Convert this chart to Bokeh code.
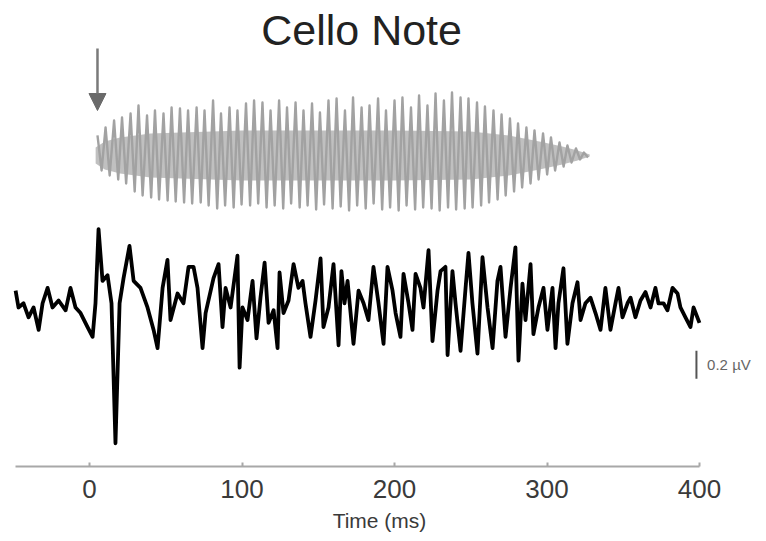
from bokeh.plotting import figure
from bokeh.models import Range1d, FixedTicker, Arrow, NormalHead, Label, ColumnDataSource
from bokeh.embed import file_html
from bokeh.resources import INLINE

# ---------------- data ----------------
tick_values = [0, 100, 200, 300, 400]
tick_labels = ["0", "100", "200", "300", "400"]

# evoked response (black trace): time in ms, amplitude in microvolts
black_t = [-48.5, -46.6, -43.3, -40.0, -36.7, -33.4, -30.8, -27.5, -24.3, -20.3,
           -15.7, -12.5, -9.2, -5.9, -1.3, 2.0, 3.9, 5.9, 8.5, 11.8,
           14.4, 17.0, 19.7, 22.3, 26.2, 28.9, 33.4, 38.0, 42.0, 44.6,
           47.9, 51.1, 53.1, 57.7, 61.6, 64.9, 68.2, 70.8, 74.1, 76.1,
           81.3, 84.6, 87.2, 89.2, 92.5, 97.0, 98.4, 100.3, 103.6, 106.9,
           109.5, 112.1, 114.8, 117.4, 120.7, 123.3, 124.6, 127.2, 130.5, 133.8,
           137.0, 139.7, 141.6, 144.9, 148.2, 151.5, 153.4, 156.7, 160.0, 163.3,
           165.2, 167.2, 169.2, 173.1, 176.4, 179.7, 182.9, 186.2, 189.5, 192.8,
           195.4, 198.7, 200.7, 203.9, 205.9, 209.2, 211.8, 213.8, 217.0, 219.0,
           222.3, 224.9, 228.2, 230.2, 233.4, 234.8, 238.0, 240.0, 243.3, 246.6,
           248.5, 251.1, 254.4, 257.7, 261.0, 264.3, 267.5, 269.5, 272.8, 276.1,
           279.3, 281.3, 283.9, 285.9, 289.2, 291.1, 294.4, 297.7, 300.3, 303.6,
           305.6, 307.5, 310.8, 313.4, 316.7, 320.0, 322.0, 325.2, 328.5, 331.8,
           335.1, 338.3, 341.6, 344.9, 346.9, 349.5, 352.8, 354.8, 358.0, 361.3,
           364.6, 367.9, 371.1, 373.1, 376.4, 379.0, 382.3, 385.6, 387.5, 390.8,
           394.1, 396.1, 400.0]
black_uv = [0.07, -0.05, -0.02, -0.12, -0.05, -0.21, -0.02, 0.09, -0.05, 0.00,
            -0.07, 0.09, -0.05, -0.09, -0.19, -0.26, -0.02, 0.51, 0.14, 0.18,
            -0.02, -1.02, -0.02, 0.16, 0.39, 0.14, 0.09, -0.05, -0.21, -0.34,
            0.09, 0.29, -0.14, 0.05, -0.02, 0.24, 0.24, 0.09, -0.34, -0.09,
            0.16, 0.26, -0.19, 0.09, -0.05, 0.32, -0.48, -0.05, -0.14, 0.14,
            -0.27, 0.02, 0.27, -0.16, -0.07, -0.34, 0.20, -0.09, 0.00, 0.26,
            0.09, 0.14, -0.02, -0.26, 0.00, 0.30, -0.19, -0.05, 0.26, -0.32,
            0.21, -0.02, 0.14, -0.31, 0.07, -0.02, -0.14, 0.24, -0.02, -0.31,
            0.24, 0.07, -0.09, -0.26, 0.19, -0.02, -0.21, 0.19, 0.09, -0.05,
            0.36, -0.29, 0.07, 0.21, 0.24, -0.39, 0.21, -0.02, -0.36, 0.09,
            0.34, -0.02, -0.38, 0.31, -0.05, -0.34, 0.14, 0.24, -0.26, 0.09,
            0.38, -0.43, 0.12, -0.14, 0.26, -0.24, -0.05, 0.09, -0.21, 0.09,
            -0.34, -0.02, 0.23, -0.31, -0.02, 0.13, -0.14, -0.02, 0.02, -0.09,
            -0.21, 0.09, -0.21, -0.02, 0.09, -0.12, -0.02, 0.02, -0.12, 0.00,
            0.06, -0.05, 0.09, -0.02, -0.02, -0.07, 0.09, 0.05, -0.05, -0.12,
            -0.19, -0.05, -0.16]

# cello stimulus (grey waveform): positive peaks and negative troughs, arbitrary units
stim_peak_t = [5.2, 10.5, 16.1, 21.3, 26.9, 32.1, 37.7, 42.9, 48.5, 53.8,
               59.3, 64.6, 70.2, 75.4, 81.0, 86.2, 91.8, 97.0, 102.6, 107.9,
               113.4, 118.7, 124.3, 129.5, 135.1, 140.3, 145.9, 151.1, 156.7, 162.0,
               167.5, 172.8, 178.4, 183.6, 189.2, 194.4, 200.0, 205.2, 210.8, 216.1,
               221.6, 226.9, 232.4, 237.7, 243.3, 248.5, 254.1, 259.3, 264.9, 270.2,
               275.7, 281.0, 286.5, 291.8, 297.4, 302.6, 308.2, 313.4, 319.0, 324.2]
stim_peak = [20, 28, 35, 38, 42, 50, 40, 45, 42, 48,
             47, 45, 48, 45, 55, 42, 48, 45, 52, 55,
             53, 45, 55, 48, 53, 45, 52, 43, 55, 57,
             45, 58, 48, 50, 57, 45, 55, 58, 48, 60,
             50, 62, 55, 63, 58, 57, 53, 49, 45, 41,
             37, 32, 28, 25, 22, 18, 13, 10, 7, 3]
stim_trough_t = [7.9, 13.2, 18.8, 24.0, 29.6, 34.8, 40.4, 45.6, 51.2, 56.5,
                 62.0, 67.3, 72.9, 78.1, 83.7, 88.9, 94.5, 99.7, 105.3, 110.6,
                 116.1, 121.4, 127.0, 132.2, 137.8, 143.0, 148.6, 153.8, 159.4, 164.7,
                 170.2, 175.5, 181.1, 186.3, 191.9, 197.1, 202.7, 207.9, 213.5, 218.8,
                 224.3, 229.6, 235.1, 240.4, 246.0, 251.2, 256.8, 262.0, 267.6, 272.9,
                 278.4, 283.7, 289.2, 294.5, 300.1, 305.3, 310.9, 316.1, 321.7, 326.9]
stim_trough = [-15, -20, -24, -28, -36, -40, -42, -44, -45, -46,
               -47, -48, -47, -50, -53, -50, -52, -49, -50, -48,
               -52, -50, -53, -48, -52, -50, -54, -49, -53, -51,
               -55, -50, -53, -48, -54, -52, -55, -50, -54, -52,
               -53, -55, -52, -54, -53, -52, -50, -47, -44, -40,
               -36, -32, -28, -24, -19, -15, -11, -7, -4, -2]
# dense central body of the stimulus waveform (half-width, arbitrary units)
stim_body_t = [4, 10, 20, 40, 100, 200, 250, 275, 295, 310, 320, 328]
stim_body = [8, 14, 18, 22, 25, 25, 24, 20, 14, 9, 5, 1]

scale_bar_uv = 0.2
scale_bar_label = "0.2 \u00b5V"
title_text = "Cello Note"
x_label = "Time (ms)"

# ---------------- layout / style ----------------
STIM_Y0 = 1.036        # vertical placement of the stimulus
STIM_K = 1.0 / 140.0   # stimulus units -> plot units
FONT = "Liberation Sans"

p = figure(width=758, height=541, output_backend="svg", toolbar_location=None,
           x_range=Range1d(-58.4, 438.7), y_range=Range1d(-1.186, 2.143),
           y_axis_location=None, min_border_left=0, min_border_right=0,
           min_border_top=0, min_border_bottom=75)
p.outline_line_color = None
p.grid.visible = False
p.background_fill_color = "white"
p.border_fill_color = "white"

# stimulus: interleave peaks and troughs
sx, sy = [], []
for tp, vp, tt, vt in zip(stim_peak_t, stim_peak, stim_trough_t, stim_trough):
    sx += [tp, tt]
    sy += [STIM_Y0 + vp * STIM_K, STIM_Y0 + vt * STIM_K]

body_src = ColumnDataSource(dict(t=stim_body_t,
                                 lo=[STIM_Y0 - h * STIM_K for h in stim_body],
                                 hi=[STIM_Y0 + h * STIM_K for h in stim_body]))
p.varea(x="t", y1="lo", y2="hi", source=body_src, fill_color="#969696", fill_alpha=0.6)
p.line(sx, sy, line_color="#a2a2a2", line_width=2.4, line_join="round")

# evoked response
p.line(black_t, black_uv, line_color="black", line_width=3.8, line_join="round")

# arrow marking stimulus onset
p.add_layout(Arrow(x_start=stim_peak_t[0], y_start=1.80, x_end=stim_peak_t[0], y_end=1.357,
                   line_color="#7a7a7a", line_width=2.5,
                   end=NormalHead(size=17, fill_color="#6a6a6a", line_color="#6a6a6a")))

# scale bar
p.segment(x0=[398], y0=[-0.36], x1=[398], y1=[-0.36 - scale_bar_uv],
          line_color="#555555", line_width=2)
p.add_layout(Label(x=405, y=-0.46, text=scale_bar_label, text_font=FONT,
                   text_font_size="15px", text_color="#666666",
                   text_baseline="middle", text_align="left"))

# title
p.add_layout(Label(x=178.4, y=1.93, text=title_text, text_font=FONT,
                   text_font_size="43px", text_color="#222222",
                   text_baseline="middle", text_align="center"))

# x axis
ax = p.xaxis[0]
ax.ticker = FixedTicker(ticks=tick_values)
ax.major_label_overrides = {v: s for v, s in zip(tick_values, tick_labels)}
ax.bounds = (-48.5, 400)
ax.axis_line_color = "#a8a8a8"
ax.axis_line_width = 2
ax.major_tick_line_color = "#a8a8a8"
ax.major_tick_line_width = 2
ax.major_tick_in = 4
ax.major_tick_out = 0
ax.minor_tick_line_color = None
ax.major_label_text_font = FONT
ax.major_label_text_font_size = "26px"
ax.major_label_text_color = "#3a3a3a"
ax.major_label_standoff = 13
ax.axis_label = x_label
ax.axis_label_text_font = FONT
ax.axis_label_text_font_style = "normal"
ax.axis_label_text_font_size = "21px"
ax.axis_label_text_color = "#3a3a3a"
ax.axis_label_standoff = 8

open("out.html", "w").write(file_html(p, INLINE))
